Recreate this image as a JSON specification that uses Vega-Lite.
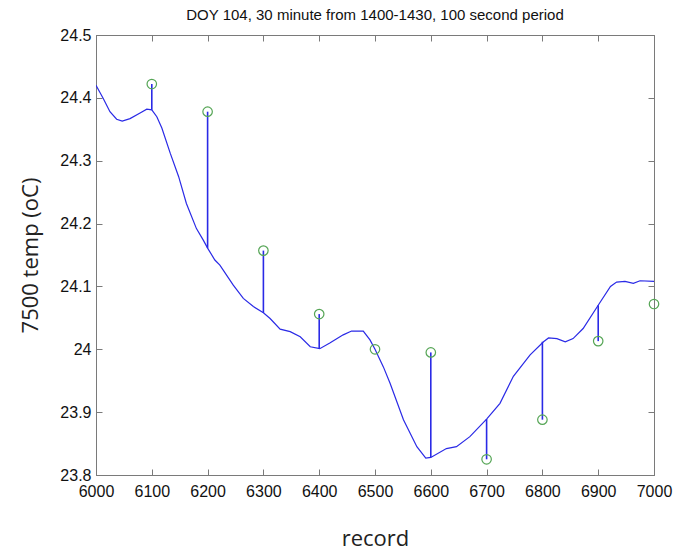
{
  "$schema": "https://vega.github.io/schema/vega-lite/v6.json",
  "width": 558,
  "height": 440,
  "autosize": {"type": "none"},
  "padding": {"left": 96, "top": 35, "right": 23, "bottom": 76},
  "background": "white",
  "title": {
    "text": "DOY 104, 30 minute from 1400-1430, 100 second period",
    "font": "Liberation Sans",
    "fontSize": 15,
    "fontWeight": "normal",
    "color": "#111111",
    "offset": 4
  },
  "config": {
    "view": {"stroke": "#7a7a7a", "strokeWidth": 1},
    "axis": {
      "domainColor": "#7a7a7a",
      "tickColor": "#7a7a7a",
      "grid": false,
      "labelFont": "Liberation Sans",
      "labelFontSize": 16,
      "labelColor": "#111111",
      "labelFlush": false,
      "titleFont": "Open Sans",
      "titleFontSize": 22,
      "titleFontWeight": "normal",
      "titleColor": "#222222"
    }
  },
  "datasets": {
    "line": [
      {"record": 6000, "temp": 24.420},
      {"record": 6013, "temp": 24.399},
      {"record": 6025, "temp": 24.378},
      {"record": 6037, "temp": 24.366},
      {"record": 6047, "temp": 24.363},
      {"record": 6061, "temp": 24.367},
      {"record": 6079, "temp": 24.376},
      {"record": 6091, "temp": 24.382},
      {"record": 6100, "temp": 24.381},
      {"record": 6109, "temp": 24.370},
      {"record": 6118, "temp": 24.352},
      {"record": 6133, "temp": 24.312},
      {"record": 6148, "temp": 24.275},
      {"record": 6162, "temp": 24.232},
      {"record": 6180, "temp": 24.192},
      {"record": 6192, "temp": 24.174},
      {"record": 6200, "temp": 24.161},
      {"record": 6213, "temp": 24.142},
      {"record": 6222, "temp": 24.134},
      {"record": 6246, "temp": 24.102},
      {"record": 6264, "temp": 24.081},
      {"record": 6282, "temp": 24.068},
      {"record": 6300, "temp": 24.058},
      {"record": 6312, "temp": 24.049},
      {"record": 6330, "temp": 24.032},
      {"record": 6348, "temp": 24.028},
      {"record": 6366, "temp": 24.020},
      {"record": 6384, "temp": 24.004},
      {"record": 6401, "temp": 24.001},
      {"record": 6419, "temp": 24.010},
      {"record": 6443, "temp": 24.023},
      {"record": 6458, "temp": 24.029},
      {"record": 6479, "temp": 24.029},
      {"record": 6491, "temp": 24.015},
      {"record": 6500, "temp": 24.000},
      {"record": 6515, "temp": 23.972},
      {"record": 6527, "temp": 23.946},
      {"record": 6551, "temp": 23.888},
      {"record": 6575, "temp": 23.845},
      {"record": 6591, "temp": 23.827},
      {"record": 6600, "temp": 23.828},
      {"record": 6628, "temp": 23.842},
      {"record": 6646, "temp": 23.845},
      {"record": 6670, "temp": 23.861},
      {"record": 6700, "temp": 23.889},
      {"record": 6724, "temp": 23.914},
      {"record": 6748, "temp": 23.957},
      {"record": 6778, "temp": 23.991},
      {"record": 6802, "temp": 24.012},
      {"record": 6811, "temp": 24.018},
      {"record": 6826, "temp": 24.017},
      {"record": 6841, "temp": 24.012},
      {"record": 6855, "temp": 24.017},
      {"record": 6873, "temp": 24.033},
      {"record": 6900, "temp": 24.070},
      {"record": 6922, "temp": 24.100},
      {"record": 6933, "temp": 24.107},
      {"record": 6948, "temp": 24.108},
      {"record": 6963, "temp": 24.105},
      {"record": 6975, "temp": 24.109},
      {"record": 7000, "temp": 24.108}
    ],
    "samples": [
      {"record": 6100, "lineTemp": 24.381, "sample": 24.422},
      {"record": 6200, "lineTemp": 24.161, "sample": 24.378},
      {"record": 6300, "lineTemp": 24.058, "sample": 24.157},
      {"record": 6400, "lineTemp": 24.001, "sample": 24.056},
      {"record": 6500, "lineTemp": 24.000, "sample": 24.000},
      {"record": 6600, "lineTemp": 23.828, "sample": 23.995},
      {"record": 6700, "lineTemp": 23.889, "sample": 23.825},
      {"record": 6800, "lineTemp": 24.012, "sample": 23.888},
      {"record": 6900, "lineTemp": 24.070, "sample": 24.013},
      {"record": 7000, "lineTemp": null, "sample": 24.072}
    ]
  },
  "resolve": {"axis": {"x": "independent", "y": "independent"}},
  "layer": [
    {
      "data": {"name": "line"},
      "mark": {"type": "line", "color": "#2a2ae6", "strokeWidth": 1.2, "clip": true},
      "encoding": {
        "x": {
          "field": "record", "type": "quantitative",
          "scale": {"domain": [6000, 7000], "nice": false, "zero": false},
          "axis": {
            "orient": "bottom",
            "values": [6000, 6100, 6200, 6300, 6400, 6500, 6600, 6700, 6800, 6900, 7000],
            "format": "d",
            "tickSize": -6,
            "labelPadding": 14,
            "title": "record",
            "titleX": 279,
            "titleY": 63,
            "titleBaseline": "middle"
          }
        },
        "y": {
          "field": "temp", "type": "quantitative",
          "scale": {"domain": [23.8, 24.5], "nice": false, "zero": false},
          "axis": {
            "orient": "left",
            "values": [23.8, 23.9, 24.0, 24.1, 24.2, 24.3, 24.4, 24.5],
            "labelExpr": "toString(round(datum.value*10)/10)",
            "tickSize": -6,
            "labelPadding": 11,
            "title": "7500 temp (oC)",
            "titleAngle": -90,
            "titleX": -66,
            "titleY": 220,
            "titleBaseline": "middle",
            "titleAlign": "center"
          }
        }
      }
    },
    {
      "data": {"name": "samples"},
      "mark": {"type": "rule", "color": "#2a2ae6", "strokeWidth": 1.6},
      "encoding": {
        "x": {"field": "record", "type": "quantitative", "axis": null},
        "y": {"field": "lineTemp", "type": "quantitative", "axis": null},
        "y2": {"field": "sample"}
      }
    },
    {
      "data": {"name": "samples"},
      "mark": {"type": "point", "shape": "circle", "filled": false, "color": "#55a555", "strokeWidth": 1.2, "size": 90, "opacity": 1},
      "encoding": {
        "x": {
          "field": "record", "type": "quantitative",
          "axis": {
            "orient": "top",
            "values": [6000, 6100, 6200, 6300, 6400, 6500, 6600, 6700, 6800, 6900, 7000],
            "labels": false,
            "tickSize": -6,
            "title": null
          }
        },
        "y": {
          "field": "sample", "type": "quantitative",
          "axis": {
            "orient": "right",
            "values": [23.8, 23.9, 24.0, 24.1, 24.2, 24.3, 24.4, 24.5],
            "labels": false,
            "tickSize": -6,
            "title": null
          }
        }
      }
    }
  ]
}
